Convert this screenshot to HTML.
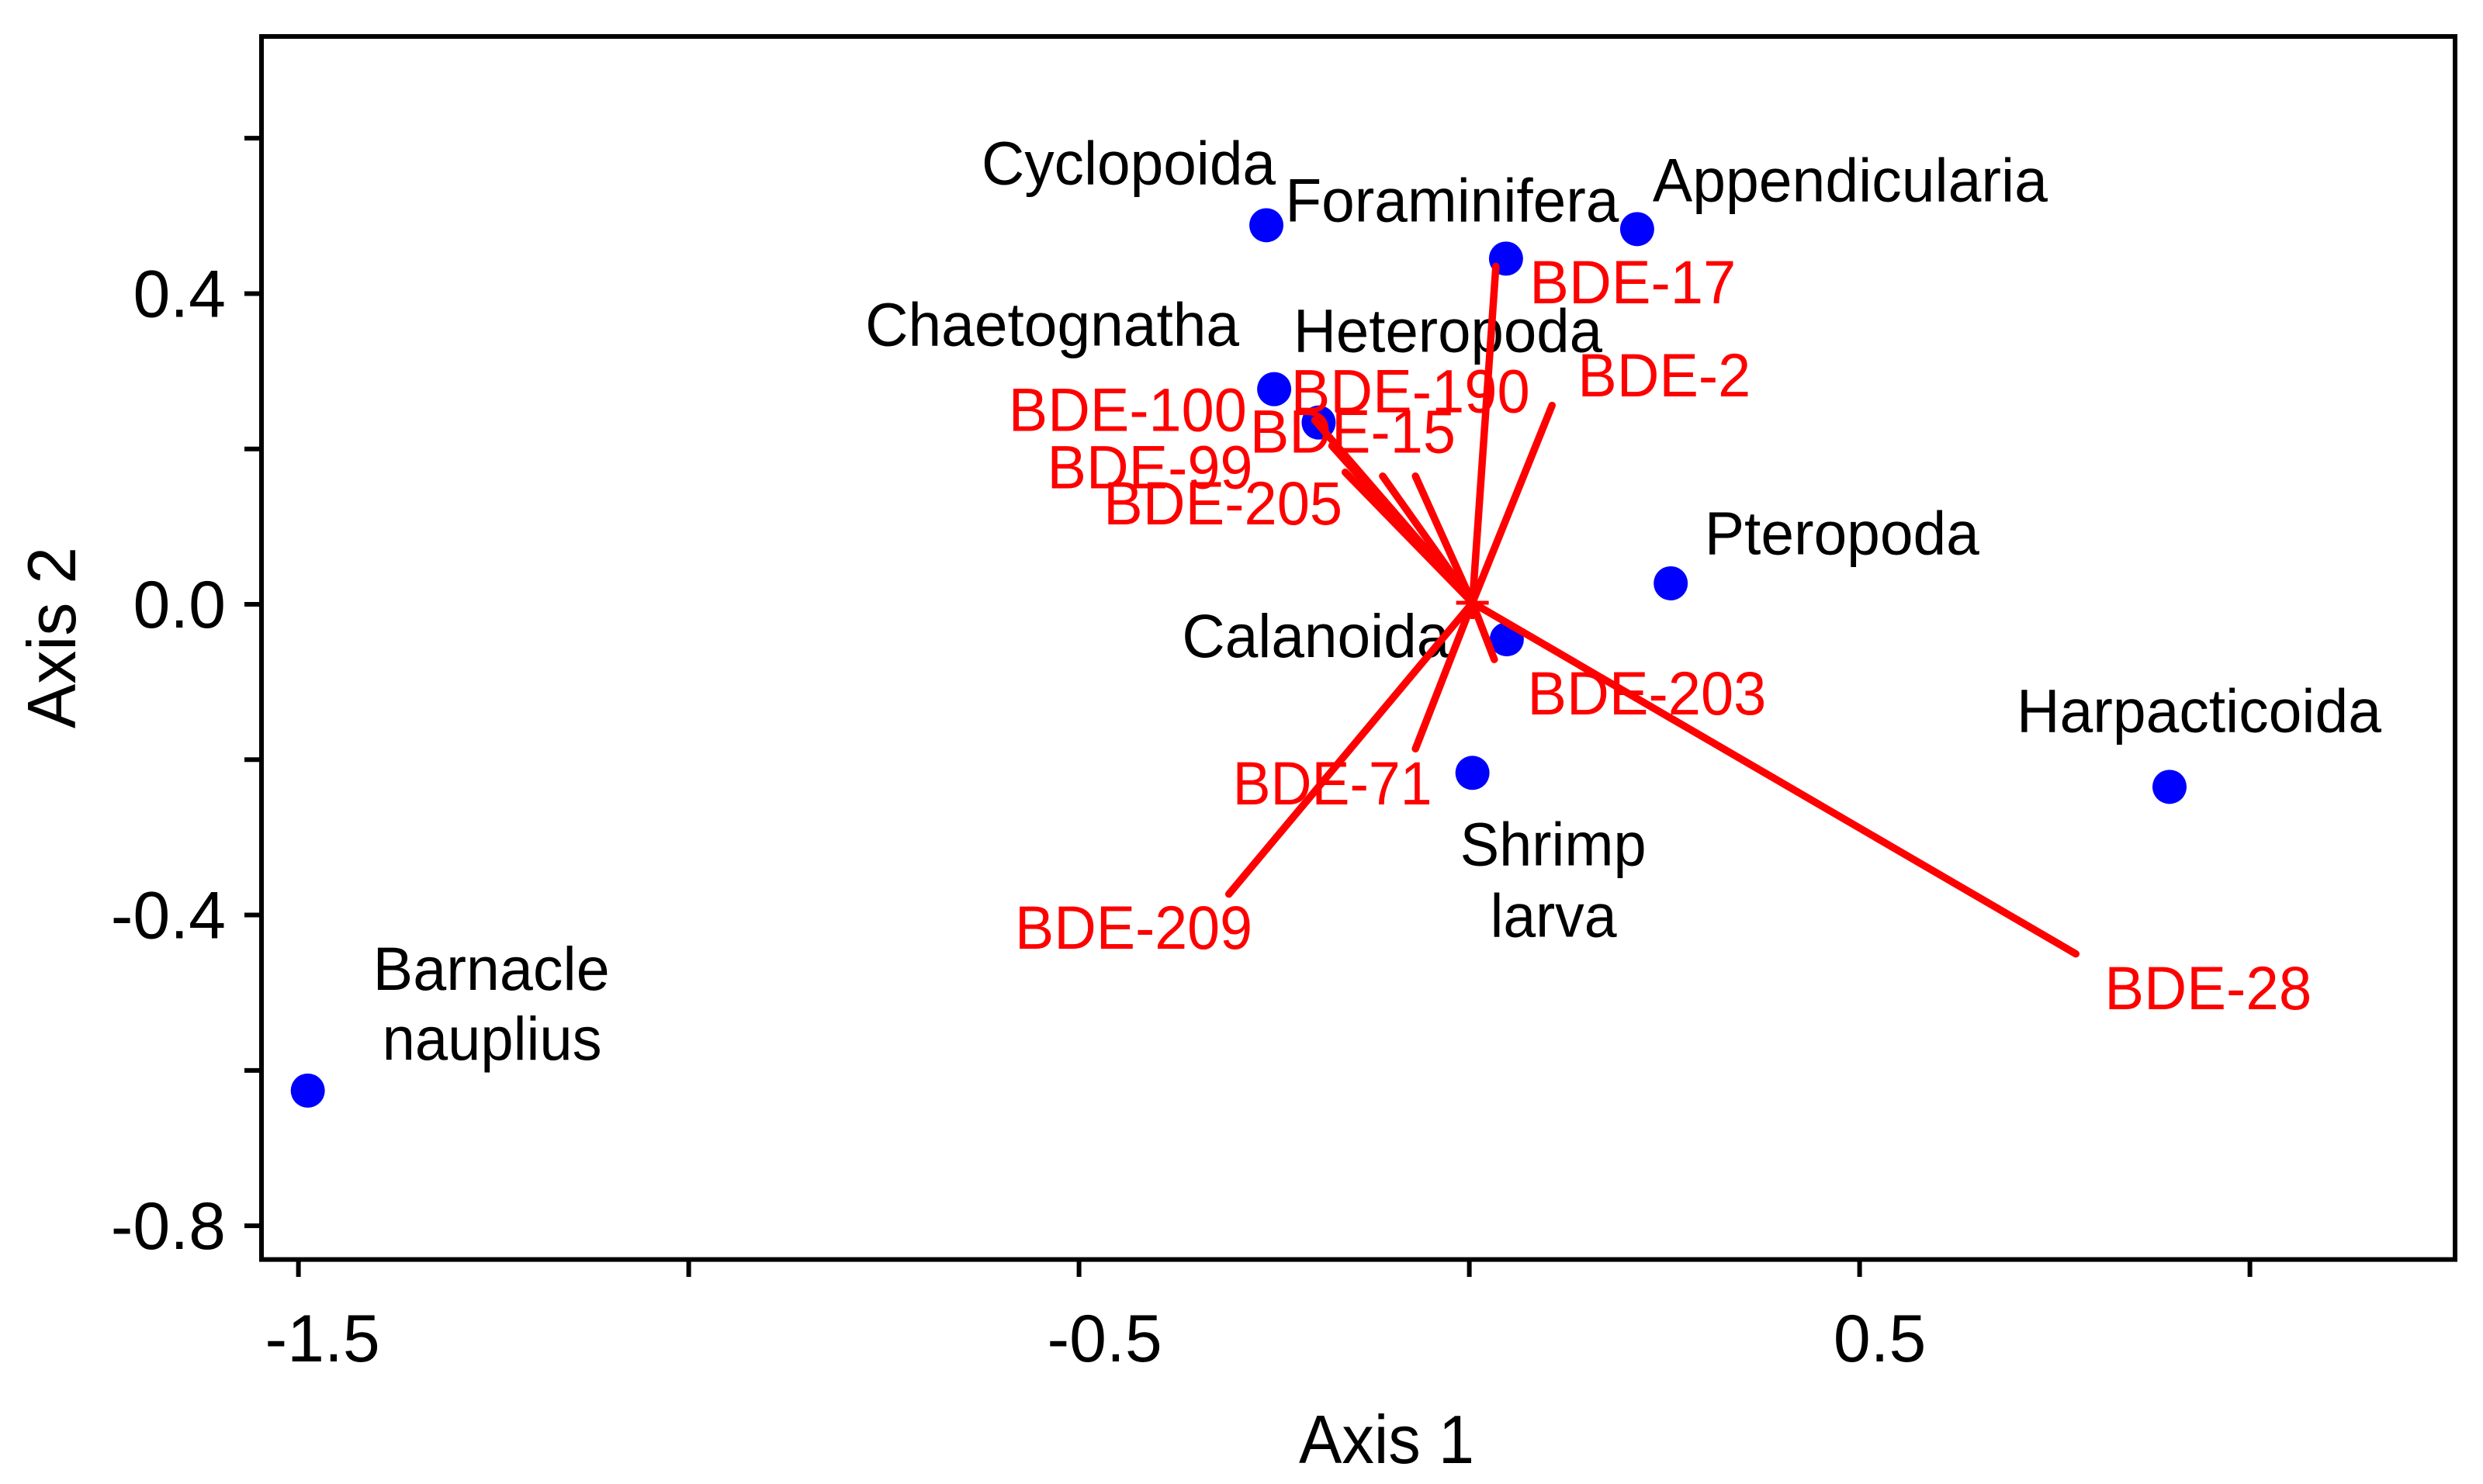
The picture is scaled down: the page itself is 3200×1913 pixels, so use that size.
<!DOCTYPE html>
<html lang="en">
<head>
<meta charset="utf-8">
<title>Biplot of Axis 1 and Axis 2</title>
<style>
html,body{margin:0;padding:0;background:#fff;width:3200px;height:1913px;overflow:hidden}
svg{display:block}
text{font-family:"Liberation Sans",Arial,sans-serif}
</style>
</head>
<body>
<svg id="chart" xmlns="http://www.w3.org/2000/svg" width="3200" height="1913" viewBox="0 0 3200 1913">
  <rect x="0" y="0" width="3200" height="1913" fill="#fff"/>
  <g id="x-ticks"></g>
  <g id="y-ticks"></g>
  <g id="dots"></g>
  <g id="species-labels"></g>
  <g id="arrows"></g>
  <g id="origin"></g>
  <g id="arrow-labels"></g>
  <rect x="337" y="47" width="2827" height="1576.6" fill="none" stroke="#000" stroke-width="6"/>
  <text x="1674" y="1886" font-size="88" textLength="226" lengthAdjust="spacingAndGlyphs" fill="#000">Axis 1</text>
  <text transform="translate(97 939) rotate(-90)" font-size="88" textLength="234" lengthAdjust="spacingAndGlyphs" fill="#000">Axis 2</text>
</svg>
<script>
// Chart data
const speciesNames = ['Cyclopoida','Appendicularia','Foraminifera','Chaetognatha','Heteropoda','Pteropoda','Calanoida','Shrimp larva','Harpacticoida','Barnacle nauplius'];
const speciesAxis1 = [-0.260,0.215,0.047,-0.250,-0.193,0.258,0.048,0.004,0.897,-1.488];
const speciesAxis2 = [0.488,0.483,0.445,0.277,0.234,0.027,-0.045,-0.217,-0.235,-0.626];
const congenerNames = ['BDE-2','BDE-15','BDE-17','BDE-28','BDE-71','BDE-99','BDE-100','BDE-190','BDE-203','BDE-205','BDE-209'];
const congenerAxis1 = [0.106,-0.111,0.034,0.777,-0.069,-0.176,-0.198,-0.069,0.032,-0.159,-0.308];
const congenerAxis2 = [0.256,0.165,0.435,-0.450,-0.186,0.204,0.237,0.165,-0.071,0.170,-0.373];
const originAxis1 = 0.004;
const originAxis2 = 0.002;
const xTickValues = [-1.5,-1.0,-0.5,0,0.5,1.0];
const xTickLabels = ['-1.5','','-0.5','','0.5',''];
const yTickValues = [0.6,0.4,0.2,0,-0.2,-0.4,-0.6,-0.8];
const yTickLabels = ['','0.4','','0.0','','-0.4','','-0.8'];

// Axis functions
function xScale(v){ return 1893.6 + 1006 * v; }
function yScale(v){ return 779 - 1001.4 * v; }

// Label layout: offset from the mark, and drawn width of each line
const xTickLabelShift = {'-1.5':31,'-0.5':33,'0.5':26};
const speciesLabelLayout = {
  'Cyclopoida':[{t:'Cyclopoida',dx:-364,dy:-53,w:374}],
  'Appendicularia':[{t:'Appendicularia',dx:23,dy:-36,w:504}],
  'Foraminifera':[{t:'Foraminifera',dx:-281.5,dy:-48,w:425}],
  'Chaetognatha':[{t:'Chaetognatha',dx:-524,dy:-56,w:477}],
  'Heteropoda':[{t:'Heteropoda',dx:-29.5,dy:-91.3,w:393}],
  'Pteropoda':[{t:'Pteropoda',dx:46.7,dy:-37.6,w:349}],
  'Calanoida':[{t:'Calanoida',dx:-415.5,dy:23,w:340}],
  'Shrimp larva':[{t:'Shrimp',dx:-13,dy:119.4,w:235},{t:'larva',dx:26,dy:211,w:158}],
  'Harpacticoida':[{t:'Harpacticoida',dx:-194,dy:-71,w:465}],
  'Barnacle nauplius':[{t:'Barnacle',dx:87,dy:-130,w:300},{t:'nauplius',dx:99,dy:-39.8,w:278}]
};
const congenerLabelLayout = {
  'BDE-2':{dx:36,dy:-11.4,w:218},
  'BDE-15':{dx:-168,dy:-30.2,w:260},
  'BDE-17':{dx:46.5,dy:47.8,w:261},
  'BDE-28':{dx:40,dy:71.4,w:262},
  'BDE-71':{dx:-232.6,dy:71.8,w:252},
  'BDE-99':{dx:-364,dy:54.7,w:260},
  'BDE-100':{dx:-391.6,dy:13.6,w:302},
  'BDE-190':{dx:-157.5,dy:-82.3,w:303},
  'BDE-203':{dx:45.6,dy:71,w:303},
  'BDE-205':{dx:-308.5,dy:67,w:303},
  'BDE-209':{dx:-272.7,dy:70.3,w:301}
};

const NS = 'http://www.w3.org/2000/svg';
function make(parentId, tag, attrs, content){
  const el = document.createElementNS(NS, tag);
  for (const k in attrs) el.setAttribute(k, attrs[k]);
  if (content !== undefined) el.textContent = content;
  document.getElementById(parentId).appendChild(el);
  return el;
}
function slug(s){ return s.toLowerCase().replace(/[^a-z0-9]+/g,'-'); }

// X ticks and labels
xTickValues.forEach(function(v, i){
  const x = xScale(v);
  const tick = make('x-ticks','line',{x1:x,x2:x,y1:1623.6,y2:1646,stroke:'#000','stroke-width':6});
  
  
  if (xTickLabels[i]) {
    const lab = make('x-ticks','text',{x:x+xTickLabelShift[xTickLabels[i]],y:1755,'font-size':86,'text-anchor':'middle',fill:'#000'}, xTickLabels[i]);
    
    
  }
});

// Y ticks and labels
yTickValues.forEach(function(v, i){
  const y = yScale(v);
  const tick = make('y-ticks','line',{x1:315,x2:337,y1:y,y2:y,stroke:'#000','stroke-width':6});
  
  
  if (yTickLabels[i]) {
    const lab = make('y-ticks','text',{x:291,y:y+30,'font-size':86,'text-anchor':'end',fill:'#000'}, yTickLabels[i]);
    
    
  }
});

// Species points and labels
speciesNames.forEach(function(name, i){
  const cx = xScale(speciesAxis1[i]);
  const cy = yScale(speciesAxis2[i]);
  const dot = make('dots','circle',{cx:cx,cy:cy,r:22,fill:'#0000ff'});
  
  
  speciesLabelLayout[name].forEach(function(p){
    const lab = make('species-labels','text',{x:cx+p.dx-3,y:cy+p.dy,'font-size':79,textLength:p.w+5,lengthAdjust:'spacingAndGlyphs',fill:'#000'}, p.t);
    
    
  });
});

// Congener vectors and labels
congenerNames.forEach(function(name, i){
  const ex = xScale(congenerAxis1[i]);
  const ey = yScale(congenerAxis2[i]);
  const line = make('arrows','line',{x1:xScale(originAxis1),y1:yScale(originAxis2),x2:ex,y2:ey,stroke:'#ff0000','stroke-width':9.5,'stroke-linecap':'round'});
  
  
  const p = congenerLabelLayout[name];
  const lab = make('arrow-labels','text',{x:ex+p.dx-3,y:ey+p.dy,'font-size':79,textLength:p.w+5,lengthAdjust:'spacingAndGlyphs',fill:'#ff0000'}, name);
  
  
});

// Origin cross
const ox = xScale(originAxis1);
const oy = yScale(originAxis2);
const crossH = make('origin','line',{x1:ox-21,x2:ox+21,y1:oy,y2:oy,stroke:'#ff0000','stroke-width':5});


const crossV = make('origin','line',{x1:ox,x2:ox,y1:oy-21,y2:oy+21,stroke:'#ff0000','stroke-width':5});


</script>
</body>
</html>
